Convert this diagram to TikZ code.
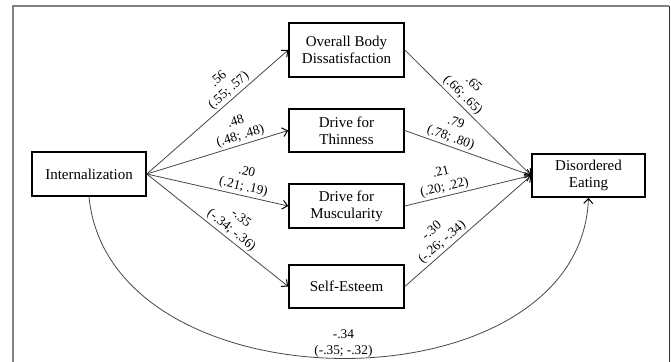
\documentclass[tikz,border=0pt]{standalone}
\usepackage{fontspec}
\setmainfont{Liberation Serif}
\usetikzlibrary{arrows.meta}
\begin{document}
\begin{tikzpicture}[x=1pt,y=-1pt,
  box/.style={draw=black, line width=1.6pt, align=center, minimum width=114pt,
    font=\fontsize{15}{17}\selectfont, inner sep=0pt},
  conn/.style={draw=black!72, line width=0.8pt,
    -{Straight Barb[length=5pt,width=9pt,line width=1pt,color=black]}},
  lbl/.style={font=\fontsize{13.3}{15.5}\selectfont, align=center, inner sep=0pt, sloped, above=2pt},
  frameg/.style={draw=black!50, line width=2pt},
  framek/.style={draw=black!80, line width=1pt}
]
\useasboundingbox (0,0) rectangle (671,361);
\fill[white] (0,0) rectangle (671,361);
% frame
\coordinate (fbl) at (13,362);
\coordinate (ftl) at (13,6);
\coordinate (ftr) at (669,6);
\coordinate (fbr) at (669,362);
\draw[frameg] (fbl) -- (ftl) -- (ftr);
\draw[framek] (ftr) -- (fbr);

% nodes
\node[box, minimum height=44pt] (int) at (89,174) {Internalization};
\node[box, minimum width=115pt, minimum height=54pt] (ob) at (346.5,50) {Overall Body\\Dissatisfaction};
\node[box, minimum width=115pt, minimum height=43pt] (dt) at (346.5,130.5) {Drive for\\Thinness};
\node[box, minimum width=115pt, minimum height=44pt] (dm) at (346.5,206) {Drive for\\Muscularity};
\node[box, minimum width=115pt, minimum height=43pt] (se) at (346.5,286.5) {Self-Esteem};
\node[box, minimum width=113pt, minimum height=43pt] (de) at (588.5,175.5) {Disordered\\Eating};

% left edges
\draw[conn] (int.east) -- node[lbl, pos=0.62] {.56\\(.55; .57)} (ob.west);
\draw[conn] (int.east) -- node[lbl, pos=0.68] {.48\\(.48; .48)} (dt.west);
\draw[conn] (int.east) -- node[lbl, pos=0.67] {.20\\(.21; .19)} (dm.west);
\draw[conn] (int.east) -- node[lbl, pos=0.56] {-.35\\(-.34; -.36)} (se.west);

% right edges
\draw[conn] (ob.east) -- node[lbl, pos=0.41] {.65\\(.66; .65)} (de.west);
\draw[conn] (dt.east) -- node[lbl, pos=0.34] {.79\\(.78; .80)} (de.west);
\draw[conn] (dm.east) -- node[lbl, pos=0.33] {.21\\(.20; .22)} (de.west);
\draw[conn] (se.east) -- node[lbl, pos=0.34] {-.30\\(-.26; -.34)} (de.west);

% direct path
\draw[conn] (int.south) .. controls (110,412) and (580,412) .. node[pos=0.5, above=1pt, inner sep=0pt, align=center, font=\fontsize{13.3}{15.5}\selectfont] {-.34\\(-.35; -.32)} (de.south);
\end{tikzpicture}
\end{document}
